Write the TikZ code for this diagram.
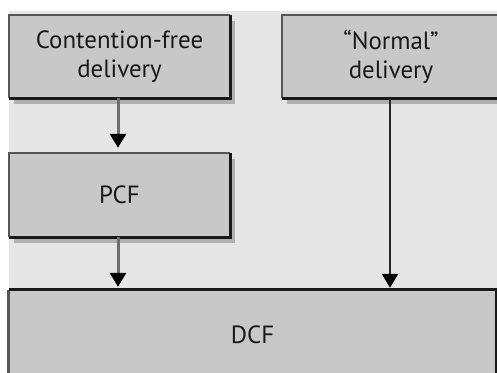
\documentclass[tikz,border=0pt]{standalone}
\usepackage{fontspec}
\setmainfont{PT Sans}
\usetikzlibrary{arrows.meta,shadows}
\definecolor{panel}{HTML}{E6E6E6}
\definecolor{boxfill}{HTML}{C8C8C8}
\definecolor{boxshade}{HTML}{B0B0B0}
\definecolor{edgelight}{HTML}{555555}
\definecolor{linkgray}{HTML}{6E6E6E}
\tikzset{
  block/.style={rectangle, fill=boxfill, inner sep=0pt, align=center,
    font=\fontsize{25}{29}\selectfont, text=black!90},
  shaded/.style={drop shadow={shadow xshift=5bp, shadow yshift=-6bp,
    fill=boxshade, opacity=1}},
  topleft/.style={edgelight, line width=2.5bp},
  botright/.style={black!90, line width=3bp},
  flow/.style={line width=3bp, -{Triangle[width=16bp,length=14bp,black]}},
}
\newcommand{\blockedges}[1]{%
  \draw[topleft] (#1.south west) -- (#1.north west) -- (#1.north east);
  \draw[botright] (#1.north east) -- (#1.south east) -- (#1.south west);}
\begin{document}
\begin{tikzpicture}[x=1bp, y=-1bp]
  \useasboundingbox (0,0) rectangle (497,372);
  \clip (0,0) rectangle (497,372);
  \fill[white] (0,0) rectangle (497,372);
  \fill[panel] (9,11) rectangle (497,372);

  \node[block, shaded, minimum width=221bp, minimum height=83bp]
    (cfree) at (119.5,56.5) {Contention-free\\delivery};
  \node[block, shaded, minimum width=221bp, minimum height=84bp]
    (pcf) at (119.5,195) {PCF};
  \node[block, shaded, minimum width=218bp, minimum height=83bp]
    (normal) at (391,56.5) {“Normal”\\delivery};
  \node[block, minimum width=487bp, minimum height=90bp]
    (dcf) at (252.5,335) {DCF};

  \blockedges{cfree}
  \blockedges{pcf}
  \blockedges{normal}
  \draw[topleft, line width=3bp] (dcf.south west) -- (dcf.north west);
  \draw[botright] (dcf.north west) -- (dcf.north east) -- (dcf.south east);

  \draw[flow, linkgray, shorten >=5bp] (cfree.south -| 118,0) -- (pcf.north -| 118,0);
  \draw[flow, linkgray, shorten >=3bp] (pcf.south -| 118,0) -- (dcf.north -| 118,0);
  \draw[flow, black!85, line width=2.2bp, shorten >=2bp] (normal.south -| 390,0) -- (dcf.north -| 390,0);
\end{tikzpicture}
\end{document}
